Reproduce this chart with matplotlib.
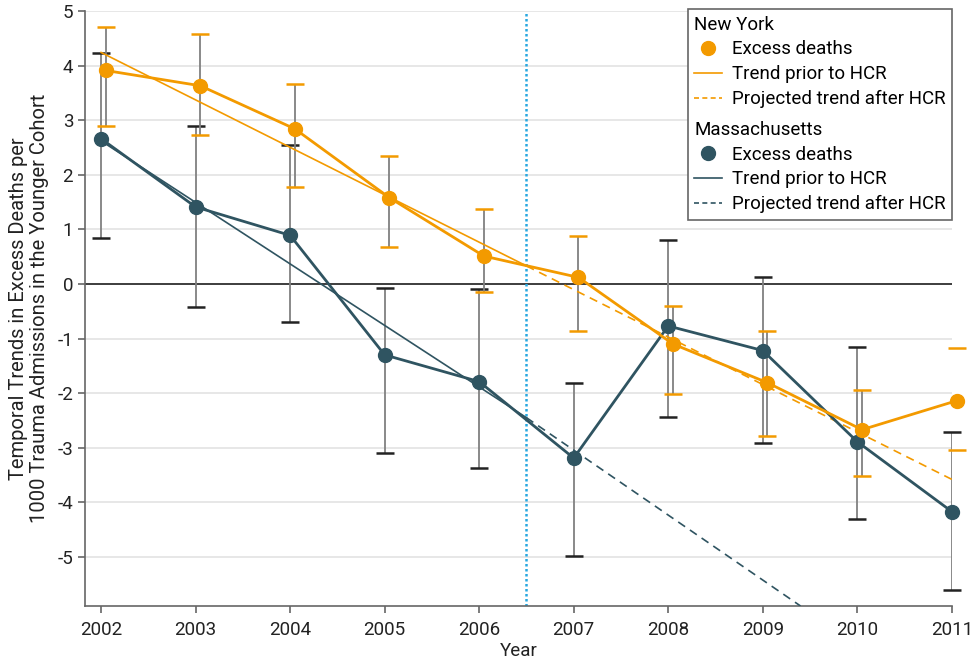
import matplotlib
matplotlib.use("Agg")
import matplotlib.pyplot as plt
from matplotlib.lines import Line2D
import numpy as np

# ---------- data ---------------------------------------------------------
years = np.arange(2002, 2012)

ny_vals = [3.91, 3.63, 2.84, 1.58, 0.51, 0.12, -1.10, -1.81, -2.67, -2.14]
ny_hi   = [4.70, 4.58, 3.66, 2.35, 1.37, 0.88, -0.40, -0.87, -1.95, -1.17]
ny_lo   = [2.90, 2.72, 1.77, 0.68, -0.15, -0.87, -2.01, -2.78, -3.51, -3.04]

ma_vals = [2.66, 1.41, 0.89, -1.30, -1.79, -3.19, -0.77, -1.22, -2.89, -4.17]
ma_hi   = [4.23, 2.89, 2.55, -0.08, -0.10, -1.81, 0.81, 0.12, -1.16, -2.72]
ma_lo   = [0.84, -0.43, -0.70, -3.10, -3.38, -4.99, -2.44, -2.92, -4.31, -5.61]

# trend lines: prior to HCR (2002 -> 2006.5) and projected after
ny_trend_x = [2002, 2006.5]
ny_trend_y = [4.24, 0.33]
ny_proj_x = [2006.5, 2011]
ny_proj_y = [0.33, -3.58]

ma_trend_x = [2002, 2006.5]
ma_trend_y = [2.62, -2.45]
ma_proj_x = [2006.5, 2009.4]
ma_proj_y = [-2.45, -5.9]

hcr_year = 2006.5
ny_offset = 0.05

# ---------- style ---------------------------------------------------------
orange = "#F39A00"
teal = "#2F5461"
grey = "#808080"
ink = "#222222"
fs = 13.5
plt.rcParams["font.family"] = ["Roboto", "DejaVu Sans"]
plt.rcParams["axes.unicode_minus"] = False

fig = plt.figure(figsize=(9.75, 6.65), dpi=100)
ax = fig.add_axes([0.0872, 0.0887, 0.889, 0.8948])

ny_x = years + ny_offset
ma_x = years


def draw_err(x, vals, lo, hi, capcol):
    vals = np.asarray(vals)
    yerr = [vals - np.asarray(lo), np.asarray(hi) - vals]
    _, caps, bars = ax.errorbar(x, vals, yerr=yerr, fmt="none", ecolor=grey,
                                elinewidth=1.3, capsize=6.2, capthick=1.8,
                                zorder=2)
    for c in caps:
        c.set_markeredgecolor(capcol)
        c.set_clip_on(False)


draw_err(ma_x, ma_vals, ma_lo, ma_hi, ink)
draw_err(ny_x, ny_vals, ny_lo, ny_hi, orange)

# trends
ax.plot(ma_trend_x, ma_trend_y, color=teal, lw=1.2, zorder=3)
ax.plot(ma_proj_x, ma_proj_y, color=teal, lw=1.2, ls=(0, (5, 3.5)), zorder=3)
ax.plot(ny_trend_x, ny_trend_y, color=orange, lw=1.2, zorder=4)
ax.plot(ny_proj_x, ny_proj_y, color=orange, lw=1.2, ls=(0, (5, 3.5)), zorder=4)

# data
ax.plot(ma_x, ma_vals, color=teal, lw=2.0, marker="o", ms=10, zorder=5,
        clip_on=False)
ax.plot(ny_x, ny_vals, color=orange, lw=2.0, marker="o", ms=10, zorder=6,
        clip_on=False)

ax.axhline(0, color=ink, lw=1.2, zorder=1.5)
ax.axvline(hcr_year, color="#29A8E0", lw=1.8, ls=(0, (1, 1)), zorder=1.6)

ax.set_xlim(2001.83, 2011.0)
ax.set_ylim(-5.9, 5)
ax.set_xticks(years)
ax.set_yticks(np.arange(-5, 6))
ax.grid(axis="y", color="#e3e3e3", lw=1.2)
ax.set_axisbelow(True)
for s in ["top", "right"]:
    ax.spines[s].set_visible(False)
for s in ["left", "bottom"]:
    ax.spines[s].set_color("#666666")
    ax.spines[s].set_linewidth(1.2)
ax.tick_params(colors="#666666", labelcolor=ink, labelsize=fs,
               length=5, width=1.2)
ax.tick_params(axis="x", pad=6)
ax.set_xlabel("Year", fontsize=fs, color=ink, labelpad=2)
ax.set_ylabel("Temporal Trends in Excess Deaths per\n"
              "1000 Trauma Admissions in the Younger Cohort",
              fontsize=14.5, color=ink, labelpad=6, linespacing=1.15)

# legend with group headers
blank = Line2D([], [], color="none")
handles = [
    blank,
    Line2D([], [], color=orange, marker="o", ms=10, ls="none"),
    Line2D([], [], color=orange, lw=1.2),
    Line2D([], [], color=orange, lw=1.2, ls=(0, (3, 2))),
    blank,
    Line2D([], [], color=teal, marker="o", ms=10, ls="none"),
    Line2D([], [], color=teal, lw=1.2),
    Line2D([], [], color=teal, lw=1.2, ls=(0, (3, 2))),
]
labels = ["New York", "Excess deaths", "Trend prior to HCR",
          "Projected trend after HCR", "Massachusetts", "Excess deaths",
          "Trend prior to HCR", "Projected trend after HCR"]
leg = ax.legend(handles, labels, loc="upper right",
                bbox_to_anchor=(1.0, 1.003), fontsize=fs, frameon=True,
                fancybox=False, edgecolor="#666666", framealpha=1,
                handlelength=1.5, handletextpad=0.5, labelspacing=0.36,
                borderpad=0.35, borderaxespad=0.0)
leg.get_frame().set_linewidth(1.2)
leg.set_zorder(10)
for col in leg._legend_handle_box.get_children():
    for row in col.get_children():
        h, t = row.get_children()
        name = t._text.get_text()
        if name in ("New York", "Massachusetts"):
            h.set_width(0)
            row.sep = 0
        if name == "Massachusetts":
            h.height += 5

fig.savefig("out.png", dpi=100)
